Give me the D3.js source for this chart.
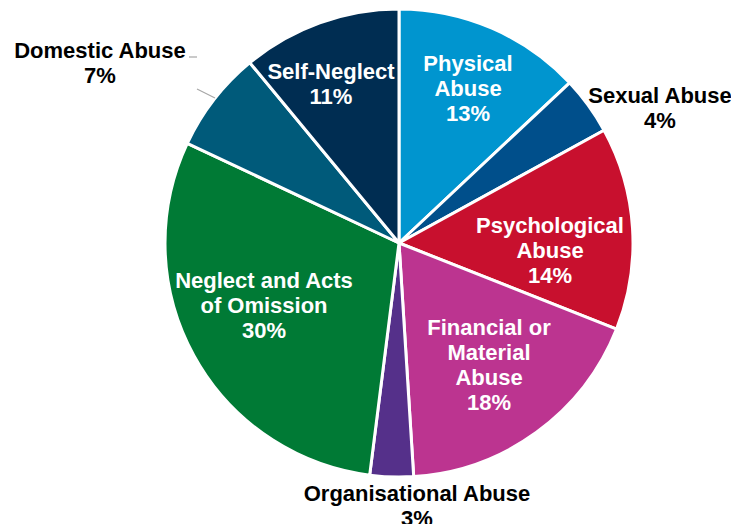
<!DOCTYPE html>
<html>
<head>
<meta charset="utf-8">
<script src="https://cdn.jsdelivr.net/npm/d3@7"></script>
<style>
  body { margin: 0; background: #fff; }
  svg text { font-family: "Liberation Sans", Arial, sans-serif; font-weight: bold; font-size: 22px; }
</style>
</head>
<body>
<svg id="chart" width="731" height="524"></svg>
<script>
// categories, clockwise from 12 o'clock
const categories = [
  'Physical Abuse', 'Sexual Abuse', 'Psychological Abuse', 'Financial or Material Abuse',
  'Organisational Abuse', 'Neglect and Acts of Omission', 'Domestic Abuse', 'Self-Neglect'
];
const values = [13, 4, 14, 18, 3, 30, 7, 11];
const colours = ['#0095cf', '#004f8b', '#c8102e', '#bc3490', '#55308a', '#007a35', '#005a7a', '#002d52'];
// how each label is broken onto lines
const labelLines = [
  ['Physical', 'Abuse'],
  ['Sexual Abuse'],
  ['Psychological', 'Abuse'],
  ['Financial or', 'Material', 'Abuse'],
  ['Organisational Abuse'],
  ['Neglect and Acts', 'of Omission'],
  ['Domestic Abuse'],
  ['Self-Neglect']
];

const width = 731, height = 524;
const cx = 399, cy = 243, radius = 234;

// label centre points (inside labels white, outside ones black)
const labelPos = [
  [468, 88, 'in'], [660, 108, 'out'], [550, 250, 'in'], [489, 365, 'in'],
  [417, 506, 'out'], [264, 305, 'in'], [100, 63, 'out'], [331, 84, 'in']
];

const svg = d3.select('#chart');
const g = svg.append('g').attr('transform', `translate(${cx},${cy})`);

const pie = d3.pie().sort(null).value((d) => d);
const arc = d3.arc().innerRadius(0).outerRadius(radius);
const arcs = pie(values);

g.selectAll('path')
  .data(arcs)
  .enter()
  .append('path')
  .attr('d', arc)
  .attr('fill', (d, i) => colours[i])
  .attr('stroke', '#fff')
  .attr('stroke-width', 3)
  .attr('stroke-linejoin', 'round');

// leader line for Domestic Abuse
svg.append('polyline')
  .attr('points', '189,57 197,57')
  .attr('fill', 'none')
  .attr('stroke', '#a6a6a6')
  .attr('stroke-width', 1.2);
svg.append('line')
  .attr('x1', 197).attr('y1', 89)
  .attr('x2', 215).attr('y2', 98)
  .attr('stroke', '#a6a6a6')
  .attr('stroke-width', 1.2);

const lineH = 25;
svg.selectAll('text.lbl')
  .data(categories)
  .enter()
  .append('text')
  .attr('class', 'lbl')
  .attr('text-anchor', 'middle')
  .attr('fill', (d, i) => (labelPos[i][2] === 'in' ? '#fff' : '#000'))
  .each(function (d, i) {
    const lines = labelLines[i].concat([values[i] + '%']);
    const top = labelPos[i][1] - ((lines.length - 1) * lineH) / 2;
    const t = d3.select(this);
    lines.forEach((ln, k) => {
      t.append('tspan')
        .attr('x', labelPos[i][0])
        .attr('y', top + k * lineH)
        .attr('dy', '0.35em')
        .text(ln);
    });
  });
</script>
</body>
</html>
